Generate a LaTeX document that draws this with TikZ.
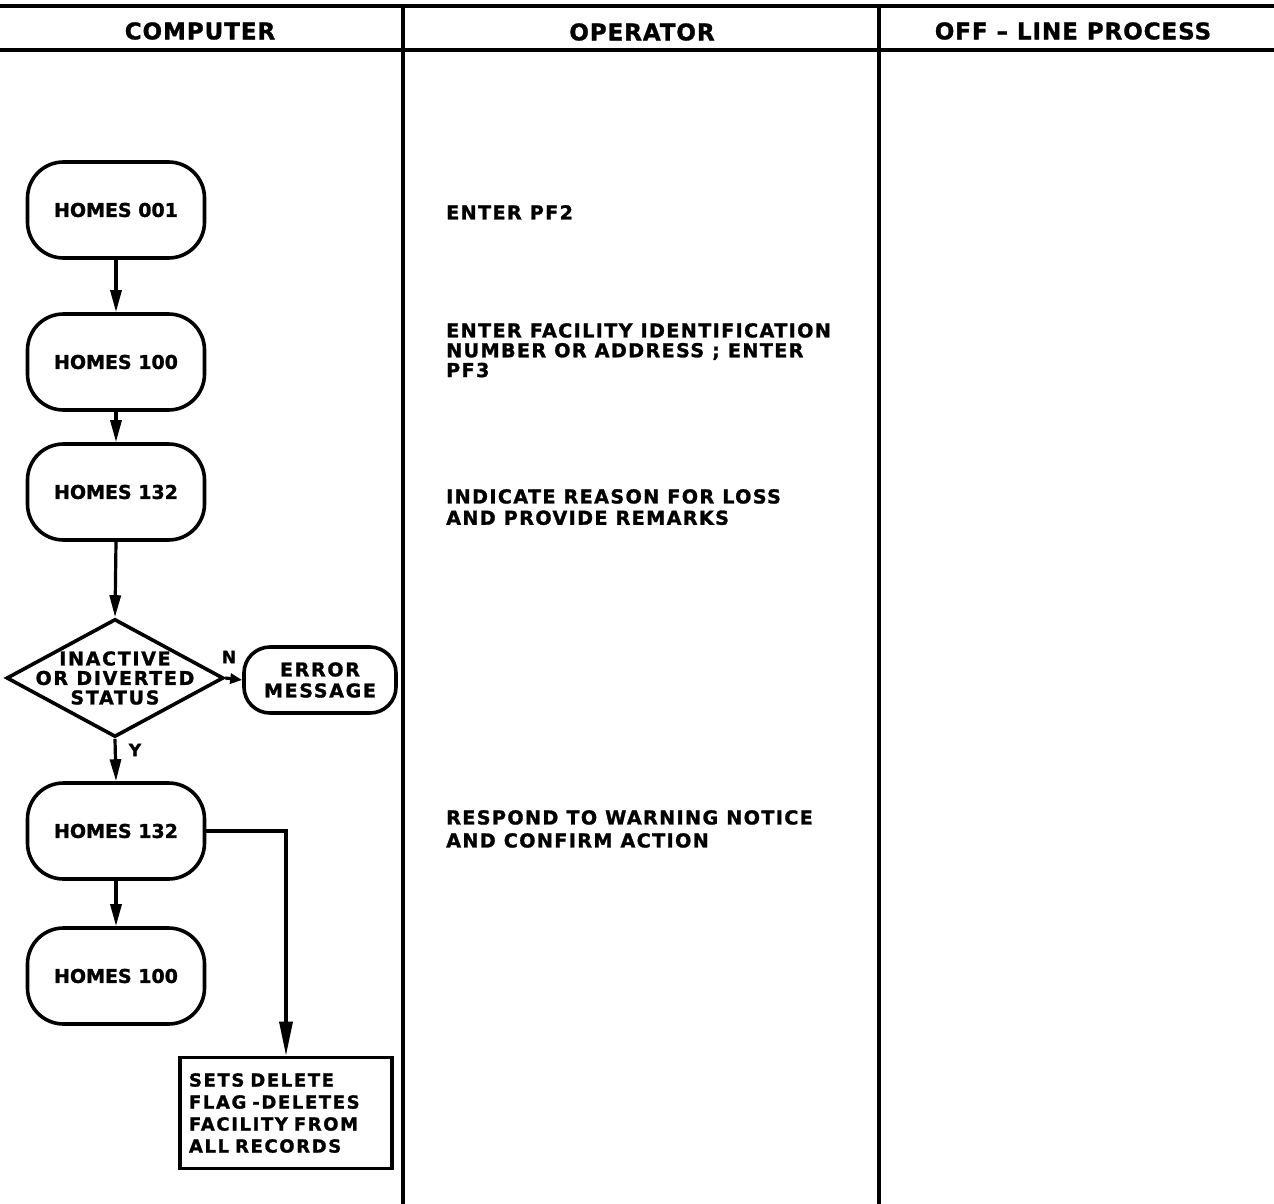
\documentclass[tikz,border=0pt]{standalone}
\usepackage{fontspec}
\setmainfont{DejaVu Sans}
\newfontfamily\plainlet{DejaVu Sans}[FakeBold=1.3]
\newfontfamily\widelet{DejaVu Sans}[LetterSpace=4,FakeBold=1.3]
\newfontfamily\oplet{DejaVu Sans}[LetterSpace=7,FakeBold=1.3]
\newfontfamily\widerlet{DejaVu Sans}[LetterSpace=9,FakeBold=1.3]
\usetikzlibrary{shapes.geometric,arrows.meta}

\begin{document}
\begin{tikzpicture}[x=1pt,y=-1pt,
  rule/.style={line width=4pt},
  term/.style={draw,rectangle,rounded corners=36pt,line width=3.6pt,
    minimum width=177pt,minimum height=96pt,inner sep=0pt,
    font=\plainlet\bfseries\fontsize{19}{22}\selectfont},
  errterm/.style={draw,rectangle,rounded corners=26pt,line width=3.6pt,
    minimum width=152pt,minimum height=66pt,inner sep=0pt,
    align=center,font=\widerlet\bfseries\fontsize{19}{21}\selectfont},
  decision/.style={draw,diamond,line width=3.6pt,inner sep=0pt,
    minimum width=217pt,minimum height=118pt},
  decisiontext/.style={align=center,
    font=\widerlet\bfseries\fontsize{19}{19.5}\selectfont},
  procbox/.style={draw,rectangle,line width=3.6pt,
    minimum width=212pt,minimum height=111pt,inner sep=0pt,align=left,
    text width=194pt,font=\widerlet\bfseries\fontsize{18}{22}\selectfont},
  flow/.style={line width=3.2pt,-{Triangle[length=22pt,width=11pt]}},
  head/.style={font=\widelet\bfseries\fontsize{23}{26}\selectfont},
  optext/.style={anchor=north west,inner sep=0pt,align=left,
    font=\oplet\bfseries\fontsize{19.2}{21.3}\selectfont},
  tag/.style={font=\plainlet\bfseries\fontsize{17}{20}\selectfont}
]
\useasboundingbox (0,0) rectangle (1274,1204);

% swim-lane frame
\coordinate (tl) at (0,6);
\coordinate (tr) at (1274,6);
\coordinate (hl) at (0,50);
\coordinate (hr) at (1274,50);
\coordinate (d1t) at (403,6);
\coordinate (d1b) at (403,1204);
\coordinate (d2t) at (879,6);
\coordinate (d2b) at (879,1204);
\draw[rule] (tl) -- (tr);
\draw[rule] (hl) -- (hr);
\draw[line width=3.2pt] (d1t) -- (d1b);
\draw[line width=3.2pt] (d2t) -- (d2b);

\node[head] (hcomp) at (200,31) {COMPUTER};
\node[head] (hoper) at (642,32) {OPERATOR};
\node[head] (hoff) at (1073,31) {OFF – LINE PROCESS};

% computer lane
\node[term] (h001) at (116,210) {HOMES 001};
\node[term] (h100a) at (116,362) {HOMES 100};
\node[term] (h132a) at (116,492) {HOMES 132};
\node[decision,label={[decisiontext]center:INACTIVE\\OR DIVERTED\\STATUS}]
  (stat) at (115,678) {};
\node[errterm] (err) at (320,680) {ERROR\\MESSAGE};
\node[term] (h132b) at (116,831) {HOMES 132};
\node[term] (h100b) at (116,976) {HOMES 100};
\node[procbox] (del) at (286,1113) {SETS DELETE\\FLAG -DELETES\\FACILITY FROM\\ALL RECORDS};

\node[tag] (nlab) at (229,657) {N};
\node[tag] (ylab) at (135,750) {Y};

\draw[flow] (h001) -- (h100a);
\draw[flow] (h100a) -- (h132a);
\draw[flow] (h132a.south) -- (stat.north);
\draw[line width=3.2pt,-{Triangle[length=12pt,width=10pt]}] (stat.east) -- (err.west);
\draw[flow] (stat.south) -- (h132b.north);
\draw[flow] (h132b) -- (h100b);
\draw[line width=3.2pt,-{Triangle[length=34pt,width=13pt]}]
  (h132b.east) -| (del.north);

% operator lane
\node[optext] (op1) at (446,205) {ENTER PF2};
\node[optext,font=\oplet\bfseries\fontsize{19.2}{19.8}\selectfont] (op2) at (446,323)
  {ENTER FACILITY IDENTIFICATION\\NUMBER OR ADDRESS ; ENTER\\PF3};
\node[optext] (op3) at (446,489) {INDICATE REASON FOR LOSS\\AND PROVIDE REMARKS};
\node[optext,font=\oplet\bfseries\fontsize{19.2}{23}\selectfont] (op4) at (446,810)
  {RESPOND TO WARNING NOTICE\\AND CONFIRM ACTION};
\end{tikzpicture}
\end{document}
